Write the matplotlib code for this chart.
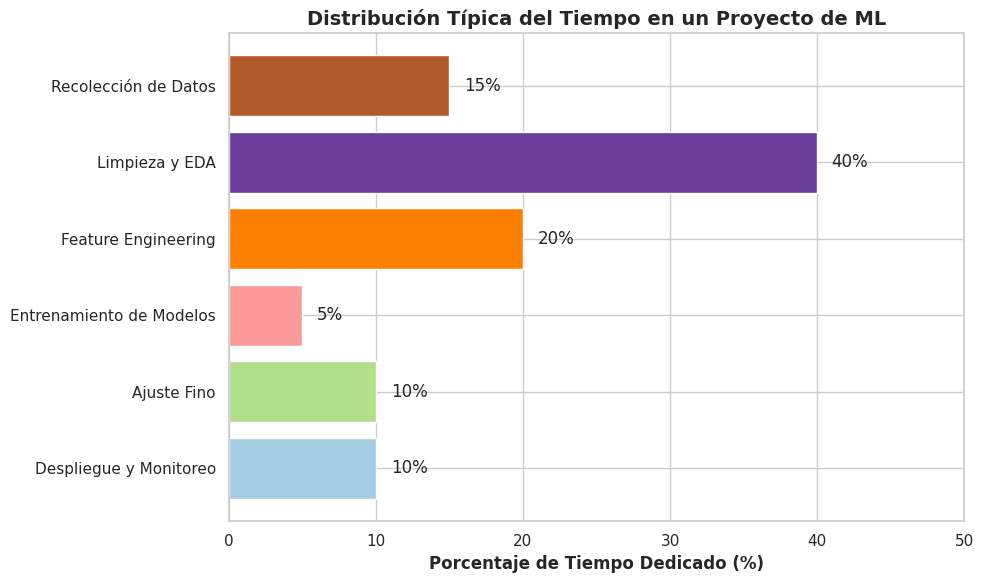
import matplotlib
matplotlib.use("Agg")
import matplotlib.pyplot as plt
import numpy as np
import seaborn as sns

etapas = ["Despliegue y Monitoreo", "Ajuste Fino", "Entrenamiento de Modelos",
          "Feature Engineering", "Limpieza y EDA", "Recolección de Datos"]
porcentajes = [10, 10, 5, 20, 40, 15]

sns.set_theme(style="whitegrid")

colores = plt.cm.Paired(np.linspace(0, 1, len(etapas)))

fig, ax = plt.subplots(figsize=(9.84, 5.84), dpi=100)
bars = ax.barh(etapas, porcentajes, color=colores)

for bar, val in zip(bars, porcentajes):
    ax.text(bar.get_width() + 1, bar.get_y() + bar.get_height() / 2,
            f"{val}%", va="center", fontsize=12)

ax.set_xlim(0, 50)
ax.set_xlabel("Porcentaje de Tiempo Dedicado (%)", fontsize=12, fontweight="bold")
ax.set_title("Distribución Típica del Tiempo en un Proyecto de ML", fontsize=14, fontweight="bold")
for s in ax.spines.values():
    s.set_color("#cccccc")

fig.subplots_adjust(left=0.2327, right=0.9797, top=0.9435, bottom=0.1079)
plt.savefig("out.png")
